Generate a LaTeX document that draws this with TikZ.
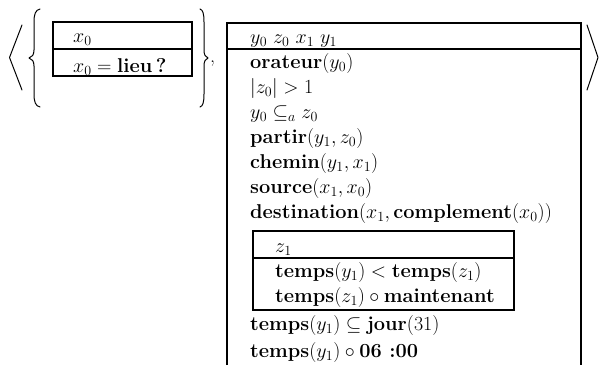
\RequirePackage{fix-cm}
\documentclass[tikz,border=0pt]{standalone}
\usepackage{amsmath,amssymb}
\begin{document}
\begin{tikzpicture}[x=1pt,y=-1pt,
    cadre/.style={line width=1.1pt},
    trait/.style={line width=1pt, line cap=round, line join=round},
    ligne/.style={anchor=base west, inner sep=0pt, font=\fontsize{20}{25}\selectfont}]
  \useasboundingbox (0,0) rectangle (599,365);
  % chevrons et accolades
  \draw[trait] (22,25) -- (9.5,57.5) -- (22,90);
  \draw[trait] (587,25) -- (598,57.5) -- (587,90);
  \draw[trait] (40,9) .. controls (35.5,10) and (34,14) .. (34,22) -- (34,50)
    .. controls (34,55) and (32,57) .. (29,58) .. controls (32,59) and (34,61) .. (34,66)
    -- (34,94) .. controls (34,102) and (35.5,106) .. (40,107);
  \draw[trait] (200,9) .. controls (203,10) and (204,14) .. (204,22) -- (204,50)
    .. controls (204,55) and (205.5,57) .. (208,58) .. controls (205.5,59) and (204,61) .. (204,66)
    -- (204,94) .. controls (204,102) and (203,106) .. (200,107);
  \node[ligne] (virg) at (210,62) {,};
  % petite boite
  \draw[cadre] (53,22) rectangle (192,76);
  \draw[cadre] (53,49) -- (192,49);
  \node[ligne] (xzero) at (73,42) {$x_0$};
  \node[ligne] (lieu) at (73,72) {$x_0 = \textbf{lieu\,?}$};
  % grande boite
  \draw[cadre] (227,365) -- (227,23) -- (581,23) -- (581,365);
  \draw[cadre] (227,49) -- (581,49);
  \node[ligne] (vars) at (250,43) {$y_0\ z_0\ x_1\ y_1$};
  \foreach \t [count=\i] in {%
      {$\textbf{orateur}(y_0)$},
      {$|z_0| > 1$},
      {$y_0 \subseteq_a z_0$},
      {$\textbf{partir}(y_1,z_0)$},
      {$\textbf{chemin}(y_1,x_1)$},
      {$\textbf{source}(x_1,x_0)$},
      {$\textbf{destination}(x_1,\textbf{complement}(x_0))$}}
    \node[ligne] (cond\i) at (250,43+25*\i) {\t};
  % boite interne
  \draw[cadre] (253,231) rectangle (514,310);
  \draw[cadre] (253,258) -- (514,258);
  \node[ligne] (zun) at (275,252) {$z_1$};
  \node[ligne] (avant) at (275,277) {$\textbf{temps}(y_1) < \textbf{temps}(z_1)$};
  \node[ligne] (maint) at (275,302) {$\textbf{temps}(z_1) \circ \textbf{maintenant}$};
  % suite
  \node[ligne] (jour) at (250,330) {$\textbf{temps}(y_1) \subseteq \textbf{jour}(31)$};
  \node[ligne] (heure) at (250,357) {$\textbf{temps}(y_1) \circ \textbf{06 :00}$};
\end{tikzpicture}
\end{document}
